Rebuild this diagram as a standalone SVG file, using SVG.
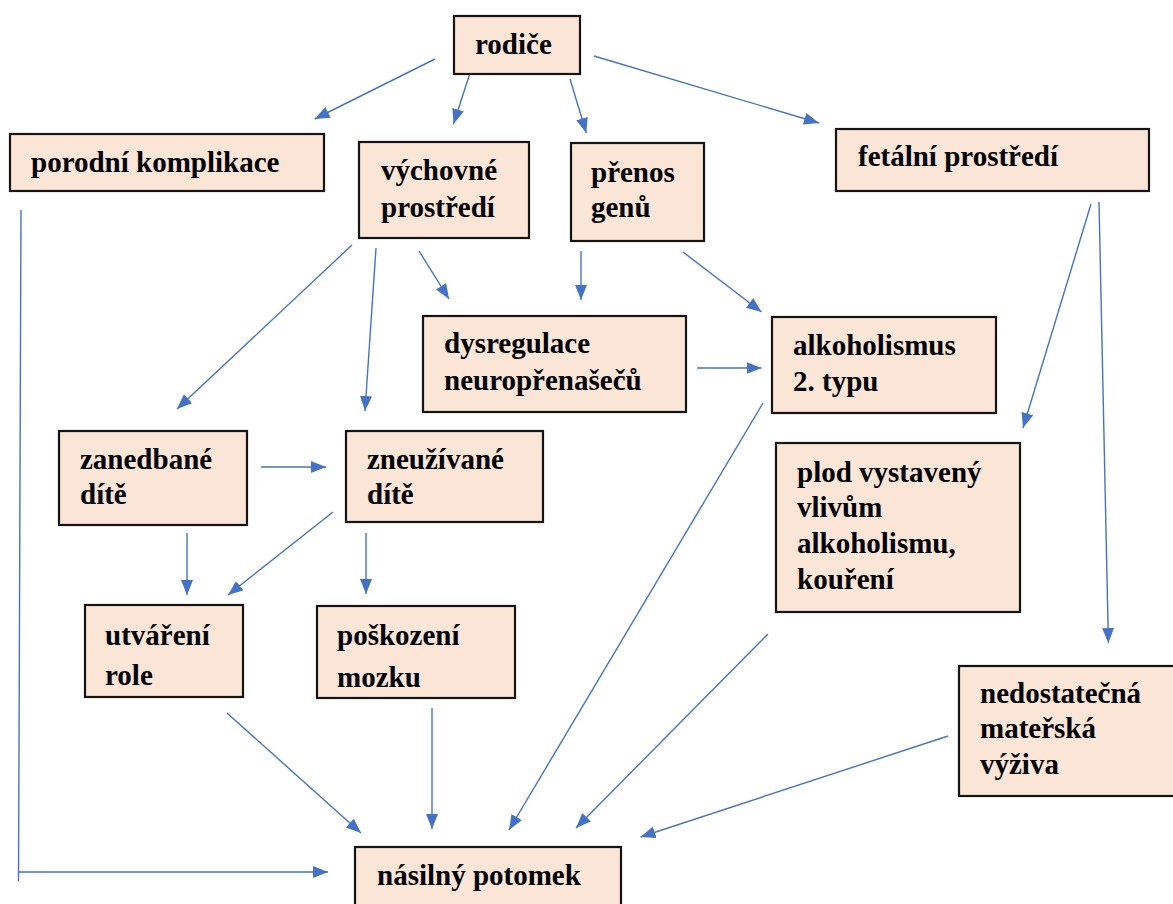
<svg xmlns="http://www.w3.org/2000/svg" width="1173" height="904" viewBox="0 0 1173 904">
<style>
.box{fill:#FBE5D6;stroke:#141414;stroke-width:2.2}
.c{fill:none;stroke:#4472C4;stroke-width:1.4;marker-end:url(#ah)}
</style>
<defs>
<marker id="ah" markerUnits="userSpaceOnUse" markerWidth="16" markerHeight="13" refX="15" refY="6" orient="auto">
<path d="M0,0 L15,6 L0,12 Z" fill="#4472C4"/>
</marker>
</defs>
<rect width="1173" height="904" fill="#fff"/>
<g id="connectors">
<path class="c" d="M435,59 L314.6,119"/>
<path class="c" d="M470,73 L453.5,124"/>
<path class="c" d="M570,79 L586.3,133"/>
<path class="c" d="M594,56 L819,123"/>
<path class="c" d="M352,245 L177,409"/>
<path class="c" d="M376,248 L365,411"/>
<path class="c" d="M419,251 L449,299"/>
<path class="c" d="M581,251 L581,300"/>
<path class="c" d="M683,252 L761.5,312"/>
<path class="c" d="M697,368 L761.5,368"/>
<path class="c" d="M1091,204 L1023,428"/>
<path class="c" d="M1099,202 L1108.4,643"/>
<path class="c" d="M261,467 L326,467"/>
<path class="c" d="M187,533 L187,595"/>
<path class="c" d="M333,512 L228,595"/>
<path class="c" d="M366,533 L366,594"/>
<path class="c" d="M21,210 L18.5,881 M18.5,872 L328,872"/>
<path class="c" d="M227,713 L361,833"/>
<path class="c" d="M432,708 L432,829"/>
<path class="c" d="M763,403 L509,830"/>
<path class="c" d="M768,634 L576,828"/>
<path class="c" d="M948,736 L640.5,837"/>
</g>
<g id="nodes" font-family="Liberation Serif, serif" font-weight="bold" font-size="29" fill="#000">
<g id="rodice"><rect class="box" x="454" y="16" width="126" height="58"/><text x="475" y="54">rodiče</text></g>
<g id="porodni"><rect class="box" x="10" y="134" width="314" height="57"/><text x="31" y="172">porodní komplikace</text></g>
<g id="vychovne"><rect class="box" x="359" y="142" width="170" height="96"/><text x="381" y="180">výchovné</text><text x="381" y="217">prostředí</text></g>
<g id="prenos"><rect class="box" x="571" y="143" width="133" height="98"/><text x="591" y="182">přenos</text><text x="591" y="217">genů</text></g>
<g id="fetalni"><rect class="box" x="836" y="129" width="313" height="62"/><text x="858" y="166">fetální prostředí</text></g>
<g id="dysregulace"><rect class="box" x="423" y="316" width="263" height="96"/><text x="444" y="353">dysregulace</text><text x="444" y="390">neuropřenašečů</text></g>
<g id="alkoholismus"><rect class="box" x="772" y="317" width="224" height="96"/><text x="793" y="355">alkoholismus</text><text x="793" y="391">2. typu</text></g>
<g id="zanedbane"><rect class="box" x="59" y="431" width="188" height="94"/><text x="80" y="469">zanedbané</text><text x="80" y="504">dítě</text></g>
<g id="zneuzivane"><rect class="box" x="346" y="431" width="197" height="91"/><text x="367" y="469">zneužívané</text><text x="367" y="504">dítě</text></g>
<g id="plod"><rect class="box" x="776" y="443" width="244" height="169"/><text x="797" y="482">plod vystavený</text><text x="797" y="517">vlivům</text><text x="797" y="553">alkoholismu,</text><text x="797" y="589">kouření</text></g>
<g id="utvareni"><rect class="box" x="85" y="605" width="158" height="92"/><text x="105" y="645">utváření</text><text x="105" y="685">role</text></g>
<g id="poskozeni"><rect class="box" x="317" y="606" width="198" height="92"/><text x="337" y="645">poškození</text><text x="337" y="687">mozku</text></g>
<g id="nedostatecna"><rect class="box" x="959" y="666" width="230" height="130"/><text x="980" y="703">nedostatečná</text><text x="980" y="738">mateřská</text><text x="980" y="774">výživa</text></g>
<g id="nasilny"><rect class="box" x="355" y="847" width="266" height="80"/><text x="377" y="885">násilný potomek</text></g>
</g>
</svg>
